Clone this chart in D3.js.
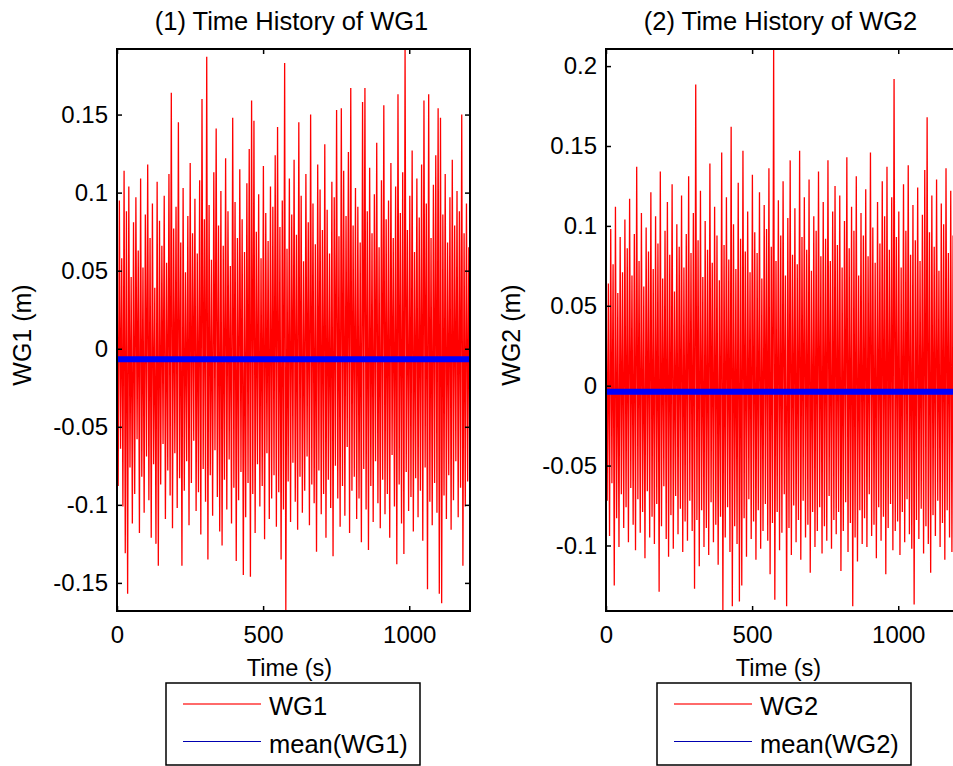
<!DOCTYPE html>
<html>
<head>
<meta charset="utf-8">
<script src="https://cdn.jsdelivr.net/npm/d3@7"></script>
<style>
  html, body { margin: 0; padding: 0; background: #fff; overflow: hidden; }
  svg { display: block; font-family: "Liberation Sans", Arial, sans-serif; }
</style>
</head>
<body>
<svg id="chart" width="953" height="766"></svg>
<script>
// ---------------- data ----------------
const titles = ["(1) Time History of WG1", "(2) Time History of WG2"];
const seriesNames = ["WG1", "WG2"];
const xTicks = [0, 500, 1000];
const yTicksWG1 = [-0.15, -0.1, -0.05, 0, 0.05, 0.1, 0.15];
const yTicksWG2 = [-0.1, -0.05, 0, 0.05, 0.1, 0.15, 0.2];
const halfWavePeriod = 4.04; // s between successive crest / trough samples
const meanWG1 = -0.0067;
const meanWG2 = -0.0038;

const crestsWG1 = [
  0.072, 0.095, 0.058, 0.114, 0.088, 0.104, 0.046, 0.081, 0.097, 0.063,
  0.109, 0.052, 0.086, 0.118, 0.071, 0.093, 0.039, 0.107, 0.082, 0.066,
  0.098, 0.055, 0.112, 0.164, 0.077, 0.091, 0.145, 0.068, 0.103, 0.049,
  0.085, 0.119, 0.074, 0.096, 0.061, 0.108, 0.160, 0.083, 0.187, 0.092,
  0.057, 0.113, 0.141, 0.079, 0.101, 0.066, 0.122, 0.088, 0.053, 0.148,
  0.094, 0.071, 0.115, 0.083, 0.062, 0.106, 0.128, 0.159, 0.146, 0.075,
  0.099, 0.058, 0.117, 0.087, 0.069, 0.104, 0.091, 0.124, 0.142, 0.078,
  0.095, 0.183, 0.064, 0.109, 0.086, 0.121, 0.073, 0.145, 0.098, 0.056,
  0.112, 0.081, 0.150, 0.093, 0.067, 0.118, 0.102, 0.076, 0.131, 0.089,
  0.061, 0.107, 0.097, 0.153, 0.072, 0.154, 0.114, 0.085, 0.126, 0.167,
  0.079, 0.103, 0.091, 0.068, 0.158, 0.167, 0.088, 0.116, 0.074, 0.099,
  0.132, 0.065, 0.108, 0.156, 0.083, 0.095, 0.119, 0.071, 0.104, 0.163,
  0.087, 0.113, 0.192, 0.076, 0.098, 0.127, 0.062, 0.109, 0.084, 0.118,
  0.159, 0.093, 0.163, 0.071, 0.105, 0.124, 0.154, 0.148, 0.086, 0.112,
  0.068, 0.097, 0.121, 0.079, 0.101, 0.088, 0.150, 0.074, 0.093, 0.065
];
const troughsWG1 = [
  -0.088, -0.064, -0.101, -0.131, -0.157, -0.076, -0.112, -0.093, -0.058, -0.118,
  -0.082, -0.105, -0.069, -0.097, -0.121, -0.074, -0.125, -0.139, -0.087, -0.061,
  -0.109, -0.078, -0.094, -0.115, -0.067, -0.102, -0.083, -0.139, -0.091, -0.072,
  -0.113, -0.086, -0.059, -0.104, -0.092, -0.119, -0.077, -0.098, -0.135, -0.081,
  -0.107, -0.065, -0.095, -0.117, -0.126, -0.084, -0.103, -0.071, -0.112, -0.089,
  -0.136, -0.097, -0.079, -0.145, -0.108, -0.086, -0.146, -0.093, -0.118, -0.074,
  -0.101, -0.088, -0.122, -0.067, -0.109, -0.096, -0.081, -0.114, -0.092, -0.135,
  -0.103, -0.168, -0.085, -0.111, -0.073, -0.098, -0.116, -0.082, -0.105, -0.091,
  -0.069, -0.113, -0.087, -0.099, -0.130, -0.078, -0.106, -0.093, -0.121, -0.084,
  -0.102, -0.133, -0.075, -0.096, -0.114, -0.088, -0.107, -0.063, -0.118, -0.091,
  -0.082, -0.109, -0.096, -0.124, -0.077, -0.103, -0.129, -0.088, -0.111, -0.072,
  -0.099, -0.115, -0.084, -0.106, -0.093, -0.121, -0.068, -0.101, -0.138, -0.087,
  -0.112, -0.1315, -0.079, -0.104, -0.095, -0.117, -0.083, -0.108, -0.091, -0.123,
  -0.076, -0.154, -0.098, -0.113, -0.086, -0.105, -0.157, -0.163, -0.094, -0.109,
  -0.081, -0.116, -0.097, -0.072, -0.108, -0.089, -0.139, -0.101, -0.085, -0.112
];
const crestsWG2 = [
  0.081, 0.064, 0.098, 0.076, 0.112, 0.058, 0.093, 0.071, 0.104, 0.086,
  0.117, 0.069, 0.095, 0.137, 0.078, 0.108, 0.062, 0.099, 0.084, 0.121,
  0.073, 0.106, 0.089, 0.134, 0.067, 0.097, 0.115, 0.082, 0.126, 0.059,
  0.101, 0.087, 0.119, 0.074, 0.095, 0.131, 0.083, 0.108, 0.1885, 0.091,
  0.122, 0.068, 0.103, 0.085, 0.139, 0.077, 0.112, 0.094, 0.066, 0.146,
  0.088, 0.118, 0.079, 0.162, 0.101, 0.073, 0.127, 0.092, 0.147, 0.084,
  0.109, 0.071, 0.132, 0.096, 0.083, 0.121, 0.067, 0.113, 0.098, 0.136,
  0.087, 0.2107, 0.078, 0.116, 0.094, 0.128, 0.069, 0.105, 0.141, 0.082,
  0.111, 0.076, 0.147, 0.093, 0.118, 0.085, 0.129, 0.072, 0.106, 0.097,
  0.134, 0.081, 0.115, 0.092, 0.141, 0.078, 0.109, 0.125, 0.088, 0.119,
  0.074, 0.103, 0.143, 0.086, 0.112, 0.097, 0.131, 0.069, 0.108, 0.094,
  0.123, 0.081, 0.146, 0.099, 0.077, 0.115, 0.089, 0.128, 0.106, 0.137,
  0.085, 0.118, 0.192, 0.093, 0.109, 0.074, 0.126, 0.097, 0.138, 0.082,
  0.113, 0.091, 0.124, 0.078, 0.107, 0.135, 0.168, 0.096, 0.119, 0.087,
  0.129, 0.072, 0.114, 0.101, 0.136, 0.083, 0.122, 0.094, 0.108, 0.077
];
const troughsWG2 = [
  -0.072, -0.094, -0.061, -0.125, -0.083, -0.101, -0.068, -0.089, -0.076, -0.098,
  -0.064, -0.087, -0.103, -0.071, -0.092, -0.079, -0.108, -0.066, -0.095, -0.082,
  -0.099, -0.074, -0.129, -0.088, -0.063, -0.096, -0.107, -0.081, -0.102, -0.069,
  -0.093, -0.077, -0.104, -0.085, -0.097, -0.072, -0.091, -0.127, -0.084, -0.113,
  -0.078, -0.101, -0.089, -0.106, -0.073, -0.098, -0.087, -0.112, -0.082, -0.141,
  -0.095, -0.076, -0.104, -0.138, -0.088, -0.099, -0.135, -0.125, -0.083, -0.107,
  -0.071, -0.096, -0.085, -0.109, -0.078, -0.102, -0.091, -0.074, -0.097, -0.118,
  -0.086, -0.134, -0.079, -0.103, -0.092, -0.068, -0.138, -0.089, -0.106, -0.075,
  -0.098, -0.084, -0.109, -0.072, -0.095, -0.087, -0.117, -0.079, -0.101, -0.091,
  -0.076, -0.105, -0.088, -0.097, -0.069, -0.102, -0.084, -0.093, -0.079, -0.116,
  -0.091, -0.073, -0.104, -0.086, -0.138, -0.095, -0.110, -0.078, -0.099, -0.083,
  -0.101, -0.068, -0.094, -0.087, -0.108, -0.076, -0.097, -0.082, -0.118, -0.089,
  -0.074, -0.103, -0.091, -0.085, -0.106, -0.079, -0.098, -0.071, -0.093, -0.102,
  -0.137, -0.084, -0.096, -0.077, -0.105, -0.088, -0.099, -0.117, -0.081, -0.094,
  -0.072, -0.101, -0.086, -0.109, -0.078, -0.095, -0.104, -0.083, -0.091, -0.076
];

// ---------------- drawing ----------------
const svg = d3.select("#chart");
const FF = '"Liberation Sans", Arial, sans-serif';
const TICK_FONT = 24, TITLE_FONT = 25.5, XLABEL_FONT = 23.5, YLABEL_FONT = 25, LEGEND_FONT = 25.5;

const panels = [
  { title: titles[0], name: seriesNames[0], crests: crestsWG1, troughs: troughsWG1,
    mean: meanWG1, yTicks: yTicksWG1, x0: 117, x1: 470, legX: 166 },
  { title: titles[1], name: seriesNames[1], crests: crestsWG2, troughs: troughsWG2,
    mean: meanWG2, yTicks: yTicksWG2, x0: 606, x1: 959, legX: 657 }
];
const yTop = 49, yBot = 611;

function fmt(d) { return String(+d.toFixed(2)); }

panels.forEach((p, k) => {
  const pts = [];
  p.crests.forEach((c, i) => {
    pts.push({ t: (2 * i) * halfWavePeriod, v: c });
    pts.push({ t: (2 * i + 1) * halfWavePeriod, v: p.troughs[i] });
  });
  const tMax = d3.max(pts, d => d.t);
  const x = d3.scaleLinear().domain([0, tMax]).range([p.x0, p.x1]);
  const y = d3.scaleLinear().domain(d3.extent(pts, d => d.v)).range([yBot, yTop]);

  const g = svg.append("g");
  const clipId = "clip" + k;
  svg.append("clipPath").attr("id", clipId).append("rect")
    .attr("x", p.x0).attr("y", yTop).attr("width", p.x1 - p.x0).attr("height", yBot - yTop);

  const plot = g.append("g").attr("clip-path", `url(#${clipId})`);
  plot.append("path")
    .datum(pts)
    .attr("fill", "none")
    .attr("stroke", "#ff0000")
    .attr("stroke-width", 1.3)
    .attr("d", d3.line().x(d => x(d.t)).y(d => y(d.v)));

  plot.append("path")
    .datum([{ t: 0, v: p.mean }, { t: tMax, v: p.mean }])
    .attr("fill", "none")
    .attr("stroke", "#0000ff")
    .attr("stroke-width", 6)
    .attr("d", d3.line().x(d => x(d.t)).y(d => y(d.v)));

  const axL = g.append("g").attr("transform", `translate(${p.x0},0)`)
    .call(d3.axisLeft(y).tickValues(p.yTicks).tickFormat(fmt).tickSizeInner(-5).tickSizeOuter(0).tickPadding(9));
  const axR = g.append("g").attr("transform", `translate(${p.x1},0)`)
    .call(d3.axisRight(y).tickValues(p.yTicks).tickFormat("").tickSizeInner(-5).tickSizeOuter(0));
  const axB = g.append("g").attr("transform", `translate(0,${yBot})`)
    .call(d3.axisBottom(x).tickValues(xTicks).tickFormat(d3.format("d")).tickSizeInner(-5).tickSizeOuter(0).tickPadding(15));
  const axT = g.append("g").attr("transform", `translate(0,${yTop})`)
    .call(d3.axisTop(x).tickValues(xTicks).tickFormat("").tickSizeInner(-5).tickSizeOuter(0));
  [axL, axR, axB, axT].forEach(a => {
    a.select(".domain").remove();
    a.selectAll(".tick line").attr("stroke", "#000").attr("stroke-width", 1.5);
    a.selectAll(".tick text").attr("fill", "#000")
      .style("font-size", TICK_FONT + "px").style("font-family", FF);
  });

  g.append("rect")
    .attr("x", p.x0).attr("y", yTop).attr("width", p.x1 - p.x0).attr("height", yBot - yTop)
    .attr("fill", "none").attr("stroke", "#000").attr("stroke-width", 2);

  const cx = (p.x0 + p.x1) / 2;
  g.append("text").attr("x", cx - 2).attr("y", 30).attr("text-anchor", "middle")
    .style("font-size", TITLE_FONT + "px").attr("fill", "#000").text(p.title);
  g.append("text").attr("x", cx - 4).attr("y", 676).attr("text-anchor", "middle")
    .style("font-size", XLABEL_FONT + "px").attr("fill", "#000").text("Time (s)");
  g.append("text").attr("transform", `translate(${p.x0 - 86},${(yTop + yBot) / 2 + 5}) rotate(-90)`)
    .attr("text-anchor", "middle")
    .style("font-size", YLABEL_FONT + "px").attr("fill", "#000").text(p.name + " (m)");

  const lg = g.append("g").attr("transform", `translate(${p.legX},683)`);
  lg.append("rect").attr("x", 0).attr("y", 0).attr("width", 254).attr("height", 82)
    .attr("fill", "#fff").attr("stroke", "#000").attr("stroke-width", 1.5);
  lg.append("line").attr("x1", 17).attr("x2", 95).attr("y1", 21).attr("y2", 21)
    .attr("stroke", "#ff6a6a").attr("stroke-width", 2);
  lg.append("text").attr("x", 103).attr("y", 32).style("font-size", LEGEND_FONT + "px")
    .attr("fill", "#000").text(p.name);
  lg.append("line").attr("x1", 17).attr("x2", 95).attr("y1", 58.5).attr("y2", 58.5)
    .attr("stroke", "#0000b0").attr("stroke-width", 1);
  lg.append("text").attr("x", 103).attr("y", 70).style("font-size", LEGEND_FONT + "px")
    .attr("fill", "#000").text(`mean(${p.name})`);
});
</script>
</body>
</html>
